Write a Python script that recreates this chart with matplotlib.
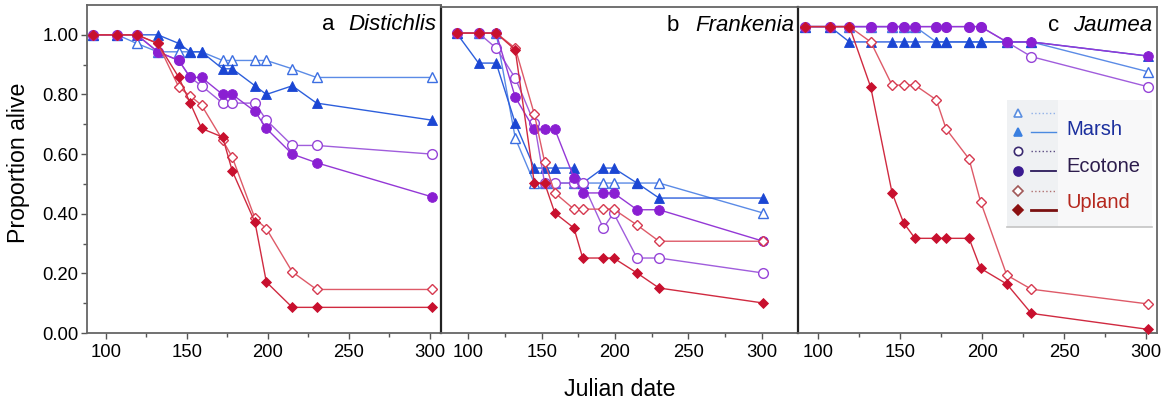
import matplotlib
matplotlib.use("Agg")
import matplotlib.pyplot as plt
from matplotlib.patches import Rectangle
from matplotlib.lines import Line2D

plt.rcParams['font.family'] = ['Liberation Sans', 'DejaVu Sans']

# ---------------- data ----------------
dates = [92, 107, 119, 132, 145, 152, 159, 172, 178, 192, 199, 215, 230, 301]

species = ["Distichlis", "Frankenia", "Jaumea"]
letters = ["a", "b", "c"]

# Panel a: Distichlis
a_marsh_open   = [1.0, 1.0, 0.971, 0.943, 0.943, 0.943, 0.943, 0.914, 0.914, 0.914, 0.914, 0.886, 0.857, 0.857]
a_marsh_filled = [1.0, 1.0, 1.0, 1.0, 0.971, 0.943, 0.943, 0.886, 0.886, 0.829, 0.800, 0.829, 0.771, 0.714]
a_eco_open     = [1.0, 1.0, 1.0, 0.943, 0.914, 0.857, 0.829, 0.771, 0.771, 0.771, 0.714, 0.629, 0.629, 0.600]
a_eco_filled   = [1.0, 1.0, 1.0, 0.943, 0.914, 0.857, 0.857, 0.800, 0.800, 0.743, 0.686, 0.600, 0.571, 0.457]
a_up_open      = [1.0, 1.0, 1.0, 0.971, 0.824, 0.795, 0.764, 0.647, 0.589, 0.384, 0.350, 0.205, 0.146, 0.146]
a_up_filled    = [1.0, 1.0, 1.0, 0.971, 0.857, 0.771, 0.686, 0.657, 0.543, 0.371, 0.171, 0.086, 0.086, 0.086]

# Panel b: Frankenia
b_marsh_open   = [1.0, 1.0, 1.0, 0.65, 0.5, 0.5, 0.5, 0.5, 0.5, 0.5, 0.5, 0.5, 0.5, 0.4]
b_marsh_filled = [1.0, 0.9, 0.9, 0.7, 0.55, 0.55, 0.55, 0.55, 0.5, 0.55, 0.55, 0.5, 0.45, 0.45]
b_eco_open     = [1.0, 1.0, 0.95, 0.85, 0.70, 0.5, 0.5, 0.5, 0.5, 0.35, 0.40, 0.25, 0.25, 0.20]
b_eco_filled   = [1.0, 1.0, 1.0, 0.786, 0.679, 0.679, 0.679, 0.518, 0.467, 0.467, 0.467, 0.411, 0.411, 0.306]
b_up_open      = [1.0, 1.0, 1.0, 0.95, 0.73, 0.571, 0.467, 0.413, 0.413, 0.413, 0.413, 0.36, 0.306, 0.306]
b_up_filled    = [1.0, 1.0, 1.0, 0.944, 0.5, 0.5, 0.4, 0.35, 0.25, 0.25, 0.25, 0.2, 0.15, 0.1]

# Panel c: Jaumea
c_marsh_open   = [1.0, 1.0, 1.0, 1.0, 1.0, 1.0, 1.0, 0.95, 0.95, 0.95, 0.95, 0.95, 0.95, 0.853]
c_marsh_filled = [1.0, 1.0, 0.95, 0.95, 0.95, 0.95, 0.95, 0.95, 0.95, 0.95, 0.95, 0.95, 0.95, 0.904]
c_eco_open     = [1.0, 1.0, 1.0, 1.0, 1.0, 1.0, 1.0, 1.0, 1.0, 1.0, 1.0, 0.95, 0.902, 0.804]
c_eco_filled   = [1.0, 1.0, 1.0, 1.0, 1.0, 1.0, 1.0, 1.0, 1.0, 1.0, 1.0, 0.95, 0.95, 0.904]
c_up_open      = [1.0, 1.0, 1.0, 0.95, 0.809, 0.809, 0.809, 0.761, 0.666, 0.568, 0.429, 0.189, 0.143, 0.095]
c_up_filled    = [1.0, 1.0, 1.0, 0.802, 0.458, 0.360, 0.309, 0.309, 0.309, 0.309, 0.211, 0.160, 0.064, 0.012]

panels = [
    [a_marsh_open, a_marsh_filled, a_eco_open, a_eco_filled, a_up_open, a_up_filled],
    [b_marsh_open, b_marsh_filled, b_eco_open, b_eco_filled, b_up_open, b_up_filled],
    [c_marsh_open, c_marsh_filled, c_eco_open, c_eco_filled, c_up_open, c_up_filled],
]

legend_labels = ["Marsh", "Ecotone", "Upland"]
yticks = [0.0, 0.2, 0.4, 0.6, 0.8, 1.0]
xticks = [100, 150, 200, 250, 300]

# ---------------- styles ----------------
# (marker, filled, marker colour, line colour, markersize)
styles = [
    ('^', False, '#3c6fe2', '#5b8be6', 6.5),
    ('^', True,  '#1b46d3', '#2d5fdc', 6.5),
    ('o', False, '#9644d8', '#a05ddc', 7.0),
    ('o', True,  '#8a1fd2', '#9438d6', 7.0),
    ('D', False, '#d63a50', '#de5a68', 5.2),
    ('D', True,  '#c8102e', '#d02a40', 4.8),
]

W, H = 1169, 407
fig = plt.figure(figsize=(W / 100, H / 100), dpi=100)

# axes boxes in pixels: left, right, top, bottom
boxes = [(87, 441, 5, 333), (441, 798, 7, 333), (798, 1157, 7, 333)]
xlims = [(88.3, 306.8), (81.4, 324.7), (87.6, 306.7)]
ylims = [(0, 1.10), (0, 1.087), (0, 1.064)]
title_pos = [(0.664, 0.737), (0.633, 0.711), (0.696, 0.766)]

axes = []
for i, (l, r, t, b) in enumerate(boxes):
    ax = fig.add_axes([l / W, (H - b) / H, (r - l) / W, (b - t) / H])
    axes.append(ax)
    for s, (mk, filled, mc, lc, ms) in zip(panels[i], styles):
        ax.plot(dates, s, color=lc, lw=1.0, marker=mk, ms=ms,
                markerfacecolor=mc if filled else 'white',
                markeredgecolor=mc, markeredgewidth=1.0 if not filled else 0.6,
                clip_on=False, zorder=3)
    ax.set_xlim(*xlims[i])
    ax.set_ylim(*ylims[i])
    ax.set_xticks(xticks)
    ax.set_xticks([125, 175, 225, 275], minor=True)
    ax.tick_params(axis='x', which='major', direction='out', length=4, width=1,
                   color='#555555', labelsize=13.3, pad=4)
    ax.tick_params(axis='x', which='minor', direction='out', length=3, width=1,
                   color='#555555')
    if i == 0:
        ax.set_yticks(yticks)
        ax.set_yticklabels([f"{v:.2f}" for v in yticks])
        ax.set_yticks([0.1, 0.3, 0.5, 0.7, 0.9], minor=True)
        ax.tick_params(axis='y', which='major', direction='out', length=4.5, width=1,
                       color='#555555', labelsize=13.3, pad=1.5)
        ax.tick_params(axis='y', which='minor', direction='out', length=3, width=1,
                       color='#555555')
    else:
        ax.set_yticks([])
    for side, sp in ax.spines.items():
        sp.set_color('#666666')
        sp.set_linewidth(1.3)
    if i > 0:
        ax.spines['left'].set_color('#222222')
        ax.spines['left'].set_linewidth(1.6)
    xl, xs = title_pos[i]
    ax.text(xl, 0.942, letters[i], transform=ax.transAxes, fontsize=16,
            ha='left', va='center', color='black', zorder=5)
    ax.text(xs, 0.942, species[i], transform=ax.transAxes, fontsize=16,
            style='italic', ha='left', va='center', color='black', zorder=5)

# ---------------- manual legend in panel c ----------------
axc = axes[2]
axc.add_patch(Rectangle((0.582, 0.325), 0.404, 0.39, transform=axc.transAxes,
                        facecolor='#f8f8f9', edgecolor='none', zorder=6))
axc.add_patch(Rectangle((0.582, 0.325), 0.142, 0.39, transform=axc.transAxes,
                        facecolor='#eff1f3', edgecolor='none', zorder=6))
axc.add_line(Line2D([0.582, 0.986], [0.325, 0.325], transform=axc.transAxes,
                    color='#c4c4c4', lw=1.2, zorder=7))
leg_rows = [0.676, 0.616, 0.558, 0.498, 0.437, 0.377]
leg_styles = [
    ('^', False, '#5b8fe0', '#8fb0e8', ':', 1.0, 6.0),
    ('^', True,  '#3a7fe0', '#4a8ae0', '-', 1.0, 6.0),
    ('o', False, '#3a2a70', '#5a4a80', ':', 1.0, 6.0),
    ('o', True,  '#3a1a90', '#2a1a5a', '-', 1.3, 6.5),
    ('D', False, '#a05858', '#b07070', ':', 1.0, 5.0),
    ('D', True,  '#8b1010', '#7a1010', '-', 2.0, 5.5),
]
for y, (mk, filled, mc, lc, ls, lw, ms) in zip(leg_rows, leg_styles):
    axc.add_line(Line2D([0.649, 0.719], [y, y], transform=axc.transAxes,
                        color=lc, lw=lw, ls=ls, zorder=8))
    axc.add_line(Line2D([0.613], [y], transform=axc.transAxes, marker=mk, ms=ms,
                        markerfacecolor=mc if filled else 'white',
                        markeredgecolor=mc, markeredgewidth=1.2,
                        ls='none', zorder=8))
label_y = [0.623, 0.512, 0.399]
label_colors = ['#1b2f9e', '#2d1d4d', '#b5281e']
for lab, y, c in zip(legend_labels, label_y, label_colors):
    axc.text(0.747, y, lab, transform=axc.transAxes, fontsize=14.5, color=c,
             ha='left', va='center', zorder=9)

# ---------------- axis titles ----------------
fig.text(19 / W, 0.60, "Proportion alive", rotation=90, fontsize=16.7,
         ha='center', va='center')
fig.text(619.5 / W, 1 - 390 / H, "Julian date", fontsize=16.7,
         ha='center', va='center')

fig.savefig("out.png", dpi=100)
